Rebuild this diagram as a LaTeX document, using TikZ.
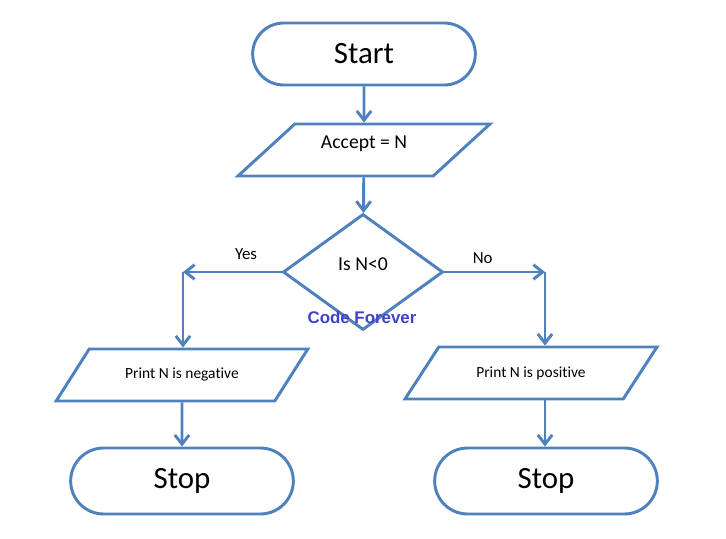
\documentclass[tikz,border=0pt]{standalone}
\usepackage{fontspec}
\setmainfont{Carlito}[Ligatures=NoCommon]
\newfontfamily\brandfont{Liberation Sans}
\usetikzlibrary{arrows.meta,positioning,shapes.geometric,shapes.misc}
\definecolor{flowblue}{HTML}{4F81BD}
\definecolor{brandblue}{HTML}{4040C8}

\begin{document}
\begin{tikzpicture}[
    x=0.025cm, y=-0.025cm,
    terminal/.style={rounded rectangle, draw=flowblue, line width=2.1pt, minimum width=5.8cm, minimum height=1.55cm, font=\fontsize{22}{26}\selectfont},
    io/.style={trapezium, trapezium left angle=46, trapezium right angle=134, trapezium stretches=true, draw=flowblue, line width=2.1pt, minimum width=6.3cm, minimum height=1.3cm},
    decision/.style={diamond, aspect=1.4, draw=flowblue, line width=2.1pt, minimum width=4.0cm, minimum height=2.9cm, font=\fontsize{14}{16}\selectfont},
    arr/.style={-{Straight Barb[length=2.3mm,width=3.6mm]}, line width=2.1pt, draw=flowblue},
    lbl/.style={font=\fontsize{12}{14}\selectfont, text=black, inner sep=2pt}
]
    \useasboundingbox (0,0) rectangle (726,539);

    \node[terminal] (start) at (364,54) {Start};
    \node[io, font=\fontsize{14}{16}\selectfont, text height=0.35cm, text depth=0.43cm] (accept) at (364,150) {Accept = N};
    \node[decision, text height=0.35cm, text depth=0.43cm] (test) at (363,272) {Is N<0};
    \node[font=\brandfont\bfseries\fontsize{12}{14}\selectfont, text=brandblue] (brand) at (362,317) {Code Forever};

    \node[io, font=\fontsize{11}{13}\selectfont] (neg) at (182,375) {Print N is negative};
    \node[io, font=\fontsize{11}{13}\selectfont] (pos) at (531,373) {Print N is positive};
    \node[terminal, minimum height=1.65cm] (stopneg) at (182,481) {Stop};
    \node[terminal, minimum height=1.65cm] (stoppos) at (546,481) {Stop};

    \coordinate (yes) at (183,272);
    \coordinate (no) at (545,272);

    \draw[arr] (start) -- (accept);
    \draw[arr] (accept) -- (test);
    \draw[arr] (test.west) -- node[lbl, above, pos=0.36, yshift=6pt]{Yes} (yes);
    \draw[arr] (yes) -- (yes |- neg.north);
    \draw[arr] (test.east) -- node[lbl, above, pos=0.38, yshift=3pt]{No} (no);
    \draw[arr] (no) -- (no |- pos.north);
    \draw[arr] (neg) -- (stopneg);
    \draw[arr] (no |- pos.south) -- (no |- stoppos.north);
\end{tikzpicture}
\end{document}
